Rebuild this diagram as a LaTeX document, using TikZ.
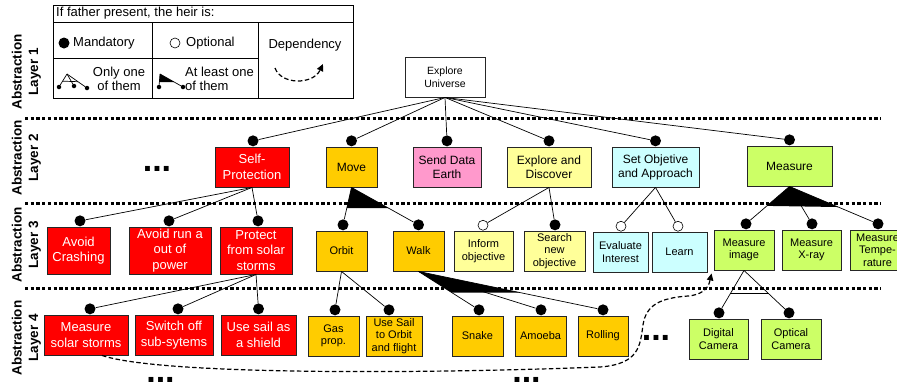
\documentclass[tikz,border=0pt]{standalone}
\usepackage{fontspec}
\setmainfont{Liberation Sans}
\usetikzlibrary{calc,arrows.meta}
\definecolor{redbox}{RGB}{255,0,0}
\definecolor{goldbox}{RGB}{255,204,0}
\definecolor{pinkbox}{RGB}{255,153,204}
\definecolor{creambox}{RGB}{255,255,153}
\definecolor{icebox}{RGB}{204,255,255}
\definecolor{limebox}{RGB}{204,255,102}
\begin{document}
\begin{tikzpicture}
  [x=1pt, y=-1pt,
   feature/.style={draw=black!85, line width=0.9pt, align=center, inner sep=1pt,
                   fill=white, minimum height=40pt, font=\fontsize{11}{12.5}\selectfont},
   lvltwo/.style={font=\fontsize{12}{14}\selectfont},
   safety/.style={feature, fill=redbox, text=white, font=\fontsize{13}{15.5}\selectfont},
   motion/.style={feature, fill=goldbox},
   explore/.style={feature, fill=creambox},
   planning/.style={feature, fill=icebox},
   sensing/.style={feature, fill=limebox},
   mand/.style={circle, fill=black, inner sep=0pt, minimum size=11pt, anchor=south},
   opt/.style={circle, draw=black, line width=0.6pt, fill=white, inner sep=0pt,
               minimum size=10pt, anchor=south},
   tinydot/.style={circle, fill=black, inner sep=0pt, minimum size=4.5pt},
   link/.style={line width=0.7pt},
   layerline/.style={line width=3pt, dash pattern=on 3.3pt off 2.4pt},
   layerlabel/.style={rotate=90, align=center, inner sep=0pt,
                      font=\fontsize{13.5}{16.5}\selectfont\bfseries},
   legendtext/.style={inner sep=0pt, font=\fontsize{13}{14}\selectfont},
   more/.style={anchor=base, inner sep=0pt, font=\fontsize{34}{34}\selectfont\bfseries},
   dep/.style={line width=1.2pt, dash pattern=on 4.5pt off 2.5pt,
               -{Triangle[length=7pt,width=6.5pt]}},
  ]
  \useasboundingbox (0,0) rectangle (897,383);

  % layer separators and labels
  \foreach \y in {118,203,288}
    \draw[layerline] (25,\y) -- (881,\y);
  \node[layerlabel] (lay1) at (26.5,72)  {Abstraction\\Layer 1};
  \node[layerlabel] (lay2) at (26.5,158) {Abstraction\\Layer 2};
  \node[layerlabel] (lay3) at (26.5,245) {Abstraction\\Layer 3};
  \node[layerlabel] (lay4) at (26.5,338) {Abstraction\\Layer 4};

  % legend
  \draw[line width=0.8pt] (53,5) rectangle (353,98);
  \draw[line width=0.8pt] (53,22) -- (353,22) (152,22) -- (152,98)
    (258,22) -- (258,98) (53,58) -- (258,58);
  \node[legendtext, anchor=west] (lg-head) at (56,13.5) {If father present, the heir is:};
  \node[mand, anchor=center] (lg-mand) at (64,43) {};
  \node[legendtext, anchor=west] (lg-mtext) at (73,43) {Mandatory};
  \node[opt, anchor=center] (lg-opt) at (175,43) {};
  \node[legendtext, anchor=west] (lg-otext) at (186,43) {Optional};
  \node[legendtext] (lg-dtext) at (305,45) {Dependency};
  \coordinate (lg-d1) at (275,68);
  \coordinate (lg-d2) at (323,64);
  \draw[dep] (lg-d1) .. controls (281,85) and (313,85) .. (lg-d2);
  % only one of them
  \coordinate (oa) at (67,74);
  \node[tinydot] (o1) at (59,87) {};
  \node[tinydot] (o2) at (74,86) {};
  \node[tinydot] (o3) at (87,88) {};
  \foreach \n in {o1,o2,o3}
    \draw[link] (oa) -- (\n);
  \draw[link] ($(oa)!.55!(o1)$) -- ($(oa)!.55!(o3)$);
  \node[legendtext, align=center] (lg-one) at (119,79) {Only one\\of them};
  % at least one of them
  \coordinate (la) at (160,74);
  \node[tinydot] (l1) at (159,87) {};
  \node[tinydot] (l2) at (183,87) {};
  \draw[link] (la) -- (l1) (la) -- (l2);
  \fill (la) -- ($(la)!.62!(l1)$) -- ($(la)!.62!(l2)$) -- cycle;
  \node[legendtext, align=left, anchor=west] (lg-least) at (185,79) {At least one\\of them};

  % layer 1
  \node[feature, font=\fontsize{10.5}{12.5}\selectfont, minimum width=80pt] (eu) at (445,77) {Explore\\Universe};

  % layer 2
  \node[safety, minimum width=74pt] (sp) at (252,167) {Self-\\Protection};
  \node[motion, lvltwo, minimum width=51pt] (mv) at (351.5,167) {Move};
  \node[feature, lvltwo, fill=pinkbox, minimum width=68pt] (sd) at (447,167) {Send Data\\Earth};
  \node[explore, lvltwo, minimum width=84pt] (ed) at (549,167) {Explore and\\Discover};
  \node[planning, lvltwo, minimum width=87pt] (so) at (655.5,167) {Set Objetive\\and Approach};
  \node[sensing, lvltwo, minimum width=85pt] (ms) at (789.5,166) {Measure};

  % layer 3
  \node[safety, minimum width=63pt, minimum height=47pt] (ac) at (78.5,250.5) {Avoid\\Crashing};
  \node[safety, minimum width=82pt, minimum height=47pt] (ar) at (170,250.5) {Avoid run a\\out of\\power};
  \node[safety, minimum width=72pt, minimum height=47pt] (pr) at (256,250.5) {Protect\\from solar\\storms};
  \node[motion, minimum width=51pt] (ob) at (341.5,251) {Orbit};
  \node[motion, minimum width=51pt] (wk) at (418.5,251) {Walk};
  \node[explore, minimum width=59pt] (io) at (483.5,251) {Inform\\objective};
  \node[explore, minimum width=61pt] (sn) at (554.5,251) {Search\\new\\objective};
  \node[planning, minimum width=55pt] (ei) at (620.5,252) {Evaluate\\Interest};
  \node[planning, minimum width=55pt] (ln) at (679.5,252) {Learn};
  \node[sensing, minimum width=60pt] (mi) at (744,250) {Measure\\image};
  \node[sensing, minimum width=59pt] (mx) at (811.5,250) {Measure\\X-ray};
  \node[sensing, minimum width=55pt] (mt) at (877.5,250) {Measure\\Tempe-\\rature};

  % layer 4
  \node[safety, minimum width=84pt] (mss) at (86,335) {Measure\\solar storms};
  \node[safety, minimum width=78pt] (sw) at (174,335) {Switch off\\sub-sytems};
  \node[safety, minimum width=75pt] (us) at (258.5,335) {Use sail as\\a shield};
  \node[motion, minimum width=51pt] (gp) at (333.5,336) {Gas\\prop.};
  \node[motion, minimum width=56pt] (uso) at (394,336) {Use Sail\\to Orbit\\and flight};
  \node[motion, minimum width=51pt] (sk) at (477.5,336) {Snake};
  \node[motion, minimum width=51pt] (am) at (540.5,336) {Amoeba};
  \node[motion, minimum width=50pt] (rl) at (603,336) {Rolling};
  \node[sensing, minimum width=59pt] (dc) at (718.5,339) {Digital\\Camera};
  \node[sensing, minimum width=60pt] (oc) at (791,339) {Optical\\Camera};

  % heir dots
  \foreach \n/\dx in {sp/1,mv/0,sd/0,ed/0,so/0,ms/0,ac/1.5,ar/-1,pr/2,ob/1.5,wk/0,
                      sn/0.5,mi/2,mx/0.5,mt/0.5,mss/4,sw/4,us/0,gp/1.5,uso/-5,
                      sk/1.5,am/0.5,rl/0,dc/0.5,oc/-2}
    \node[mand] (\n-d) at ([xshift=\dx pt]\n.north) {};
  \foreach \n/\dx in {io/-0.5,ei/0.5,ln/-1.5}
    \node[opt] (\n-d) at ([xshift=\dx pt]\n.north) {};

  % decomposition links
  \foreach \n in {sp,mv,sd,ed,so,ms}
    \draw[link] (eu.south) -- (\n-d);
  \foreach \n in {ac,ar,pr}
    \draw[link] (sp.south) -- (\n-d);
  \foreach \n in {ob,wk}
    \draw[link] (mv.south) -- (\n-d);
  \foreach \n in {io,sn}
    \draw[link] (ed.south) -- (\n-d);
  \foreach \n in {ei,ln}
    \draw[link] (so.south) -- (\n-d);
  \foreach \n in {mi,mx,mt}
    \draw[link] (ms.south) -- (\n-d);
  \foreach \n in {mss,sw,us}
    \draw[link] (pr.south) -- (\n-d);
  \foreach \n in {gp,uso}
    \draw[link] (ob.south) -- (\n-d);
  \foreach \n in {sk,am,rl}
    \draw[link] (wk.south) -- (\n-d);
  \foreach \n in {dc,oc}
    \draw[link] (mi.south) -- (\n-d);

  % at least one / only one marks
  \fill (mv.south) -- ($(mv.south)!.55!(ob-d.center)$) -- ($(mv.south)!.55!(wk-d.center)$) -- cycle;
  \fill (wk.south) -- ($(wk.south)!.55!(sk-d.center)$) -- ($(wk.south)!.55!(rl-d.center)$) -- cycle;
  \fill (ms.south) -- ($(ms.south)!.52!(mi-d.center)$) -- ($(ms.south)!.55!(mt-d.center)$) -- cycle;
  \draw[link] ($(mi.south)!.55!(dc-d.center)$) -- ($(mi.south)!.55!(oc-d.center)$);

  % dependency
  \draw[dep] ([xshift=16pt]mss.south) .. controls (160,375) and (420,374) .. (600,367)
    .. controls (640,364) and (640,345) .. (643,325)
    .. controls (646,305) and (660,298) .. (688,296)
    .. controls (700,295) and (708,290) .. ([xshift=-2pt,yshift=-3pt]mi.south west);

  % omitted parts
  \node[more] (more-a) at (157,171.5) {...};
  \node[more] (more-b) at (656,340) {...};
  \node[more] (more-c) at (160.5,382.5) {...};
  \node[more] (more-d) at (526.5,382.5) {...};
\end{tikzpicture}
\end{document}
